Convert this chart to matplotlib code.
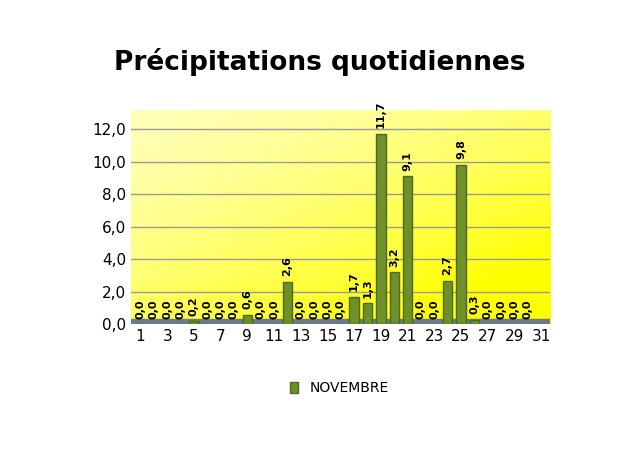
import matplotlib.pyplot as plt
import numpy as np
from matplotlib.patches import Patch

days = list(range(1, 32))
values = [0.0, 0.0, 0.0, 0.0, 0.2, 0.0, 0.0, 0.0, 0.6, 0.0, 0.0, 2.6, 0.0, 0.0, 0.0,
          0.0, 1.7, 1.3, 11.7, 3.2, 9.1, 0.0, 0.0, 2.7, 9.8, 0.3, 0.0, 0.0, 0.0, 0.0, 0.0]
yticks = [0, 2, 4, 6, 8, 10, 12]

fig = plt.figure(figsize=(6.4, 4.57), dpi=100)
ax = fig.add_axes([0.205, 0.29, 0.655, 0.47])

# yellow gradient background: pale top-left, saturated bottom-right
grad = np.linspace(0, 1, 256)
gx, gy = np.meshgrid(grad, grad)
t = np.clip(0.55 * gx + 0.65 * gy, 0, 1) ** 1.5
img = np.zeros((256, 256, 3))
img[..., 0] = 1.0
img[..., 1] = 1.0
img[..., 2] = 0.72 * (1 - t)
ax.imshow(img, extent=[0.3, 31.7, 0, 13.2], aspect='auto', zorder=0)

ax.set_xlim(0.3, 31.7)
ax.set_ylim(0, 13.2)
for y in yticks[1:]:
    ax.axhline(y, color='#9a9a9a', lw=1, zorder=1)
ax.axhspan(0, 0.35, color='#6f7a86', zorder=1)

ax.bar(days, values, width=0.7, color='#6f8f2a', edgecolor='#4d6a18', zorder=2)
for d, v in zip(days[:30], values[:30]):
    ax.text(d, v + 0.35, f"{v:.1f}".replace('.', ','), rotation=90, ha='center',
            va='bottom', fontsize=8, fontweight='bold', zorder=3)

ax.set_yticks(yticks)
ax.set_yticklabels([f"{y:.1f}".replace('.', ',') for y in yticks], fontsize=11)
ax.set_xticks(days[::2])
ax.set_xticklabels([str(d) for d in days[::2]], fontsize=11)
ax.tick_params(length=0)
for s in ax.spines.values():
    s.set_visible(False)

fig.text(0.5, 0.865, 'Précipitations quotidiennes', ha='center', va='center',
         fontsize=19, fontweight='bold')
fig.legend(handles=[Patch(facecolor='#6f8f2a', edgecolor='#4d6a18', label='NOVEMBRE')],
           loc='center', bbox_to_anchor=(0.53, 0.15), frameon=False, fontsize=10,
           handlelength=0.6, handleheight=0.9)

fig.savefig('out.png', dpi=100)
